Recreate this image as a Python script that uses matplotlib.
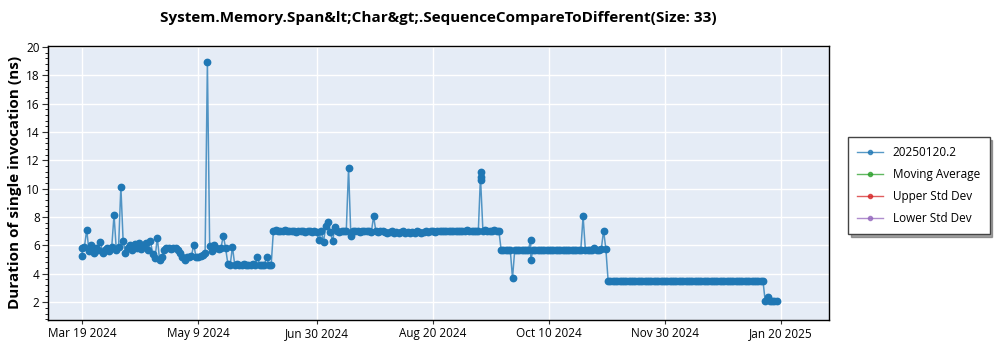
import numpy as np
import pandas as pd
import matplotlib
matplotlib.use("Agg")
import matplotlib.pyplot as plt
from matplotlib.ticker import MultipleLocator

# benchmark run history, one sample per day starting at START_DATE
START_DATE = "2024-03-19"
duration_ns = [
    # Mar 19 - Apr 30
    5.25, 5.9, 7.1, 5.6, 6.0, 5.5, 5.8, 5.65, 6.25, 5.5,
    5.7, 5.85, 5.6, 5.9, 8.15, 5.7, 5.9, 10.15, 6.3, 5.5,
    5.8, 6.0, 5.7, 6.1, 5.8, 6.2, 5.75, 6.0, 6.2, 5.7,
    6.3, 5.4, 5.1, 6.55, 5.0, 5.2, 5.7, 5.8, 5.8, 5.75,
    # May
    5.85, 5.8, 5.7, 5.5, 5.2, 5.0, 5.15, 5.2, 5.25, 6.05,
    5.2, 5.2, 5.25, 5.3, 5.5, 18.9, 5.95, 5.6, 6.0, 5.8,
    5.75, 5.85, 6.7, 5.8, 4.7, 4.6, 5.9, 4.65, 4.7, 4.6,
    4.65, 4.7, 4.65, 4.6, 4.65, 4.7, 4.65, 5.15, 4.65, 4.6,
    4.65, 5.15, 4.65, 4.6,
    # Jun 10 - Sep 18
    7.05, 7.1, 7.0, 7.05, 7.0, 7.1, 7.05, 7.0, 7.05, 7.0,
    6.95, 7.0, 7.05, 7.0, 6.95, 7.0, 7.0, 6.95, 7.0, 6.95,
    6.35, 7.0, 6.25, 7.35, 7.65, 6.95, 6.3, 7.3, 7.0, 6.95,
    7.0, 7.0, 7.05, 11.45, 6.7, 7.0, 7.05, 7.0, 6.95, 7.0,
    7.05, 7.0, 7.0, 6.95, 8.05, 7.0, 6.95, 7.0, 7.0, 6.95,
    6.9, 6.95, 7.0, 6.9, 6.95, 6.9, 6.95, 7.0, 6.9, 6.95,
    6.9, 6.95, 6.9, 7.0, 6.95, 6.9, 6.95, 7.0, 6.95, 7.0,
    7.0, 6.95, 7.0, 7.05, 7.0, 7.0, 7.05, 7.0, 7.05, 7.0,
    7.05, 7.0, 7.05, 7.0, 7.05, 7.1, 7.05, 7.0, 7.05, 7.0,
    7.05, 11.15, 7.05, 7.1, 7.05, 7.0, 7.05, 7.1, 7.0, 7.05,
    # Sep 19 - Nov 4
    5.7, 5.7, 5.65, 5.7, 5.7, 3.7, 5.7, 5.7, 5.65, 5.7,
    5.7, 5.7, 5.7, 6.4, 5.7, 5.7, 5.65, 5.7, 5.7, 5.7,
    5.7, 5.7, 5.65, 5.7, 5.7, 5.7, 5.7, 5.7, 5.65, 5.7,
    5.7, 5.7, 5.7, 5.7, 5.7, 5.7, 8.05, 5.7, 5.7, 5.7,
    5.7, 5.85, 5.7, 5.7, 5.75, 7.05, 5.75,
    # Nov 5 - Jan 13
    3.5, 3.5, 3.5, 3.5, 3.5, 3.5, 3.5, 3.5, 3.5, 3.5,
    3.5, 3.5, 3.5, 3.5, 3.5, 3.5, 3.5, 3.5, 3.5, 3.5,
    3.5, 3.5, 3.5, 3.5, 3.5, 3.5, 3.5, 3.5, 3.5, 3.5,
    3.5, 3.5, 3.5, 3.5, 3.5, 3.5, 3.5, 3.5, 3.5, 3.5,
    3.5, 3.5, 3.5, 3.5, 3.5, 3.5, 3.5, 3.5, 3.5, 3.5,
    3.5, 3.5, 3.5, 3.5, 3.5, 3.5, 3.5, 3.5, 3.5, 3.5,
    3.5, 3.5, 3.5, 3.5, 3.5, 3.5, 3.5, 3.5, 3.5,
    # Jan 14 - Jan 20
    2.05, 2.35, 2.1, 2.05, 2.1, 2.05,
]

# extra runs on days that were measured more than once
extra_dates = ["2024-03-19", "2024-09-10", "2024-09-10", "2024-10-02"]
extra_values = [5.8, 10.85, 10.6, 4.95]

# statistics series (no samples in this window)
moving_avg = []
upper_std = []
lower_std = []

tick_dates = ["2024-03-19", "2024-05-09", "2024-06-30", "2024-08-20",
              "2024-10-10", "2024-11-30", "2025-01-20"]
tick_labels = ["Mar 19 2024", "May 9 2024", "Jun 30 2024", "Aug 20 2024",
               "Oct 10 2024", "Nov 30 2024", "Jan 20 2025"]

TITLE = "System.Memory.Span&lt;Char&gt;.SequenceCompareToDifferent(Size: 33)"
SERIES = "20250120.2"

plt.rcParams['font.family'] = ['Open Sans', 'DejaVu Sans']

df = pd.DataFrame({
    "date": pd.date_range(START_DATE, periods=len(duration_ns), freq="D"),
    "value": duration_ns,
})
extra = pd.DataFrame({"date": pd.to_datetime(extra_dates), "value": extra_values})
df = pd.concat([df, extra]).sort_values("date", kind="mergesort")

fig = plt.figure(figsize=(10, 3.5), dpi=100)
ax = fig.add_axes([0.048, 0.086, 0.781, 0.783])
ax.set_facecolor("#E5ECF6")

# faint connecting line, solid markers on top
ax.plot(df["date"], df["value"], color="#1f77b4", lw=1.1, alpha=0.75)
ax.plot(df["date"], df["value"], ls="none", marker="o", ms=4.6,
        color="#1f77b4")
# legend proxies carry the line+marker look
ax.plot([], [], color="#1f77b4", lw=1, marker="o", ms=4, label=SERIES)
ax.plot(pd.to_datetime(moving_avg), moving_avg, color="#2ca02c", lw=1,
        marker="o", ms=4, label="Moving Average")
ax.plot(pd.to_datetime(upper_std), upper_std, color="#d62728", lw=1,
        marker="o", ms=4, label="Upper Std Dev")
ax.plot(pd.to_datetime(lower_std), lower_std, color="#9467bd", lw=1,
        marker="o", ms=4, label="Lower Std Dev")

ax.set_xlim(pd.Timestamp("2024-03-04"), pd.Timestamp("2025-02-10"))
ax.set_ylim(0.75, 20.07)
ax.set_xticks(pd.to_datetime(tick_dates))
ax.set_xticklabels(tick_labels)
ax.yaxis.set_major_locator(MultipleLocator(2))
ax.yaxis.set_minor_locator(MultipleLocator(0.4))
ax.tick_params(axis="both", labelsize=8.5, color="#333333", pad=2)
ax.tick_params(axis="y", which="major", length=4)
ax.tick_params(axis="y", which="minor", length=2)
ax.tick_params(axis="x", length=3)

ax.grid(True, which="major", color="white", lw=1)
ax.set_axisbelow(True)
for s in ax.spines.values():
    s.set_color("black")
    s.set_linewidth(1)

ax.set_title(TITLE, fontsize=11, fontweight="bold", pad=17)
ax.set_ylabel("Duration of single invocation (ns)", fontsize=11,
              fontweight="bold", labelpad=3)

leg = fig.legend(loc="upper left", bbox_to_anchor=(0.848, 0.609),
                 borderaxespad=0, fontsize=8.5, frameon=True,
                 fancybox=False, shadow=True, handlelength=2.2,
                 borderpad=0.8, labelspacing=0.75, markerscale=0.75)
leg.get_frame().set_edgecolor("#444444")
for h in leg.get_lines():
    h.set_alpha(0.75)

fig.savefig("out.png", dpi=100)
